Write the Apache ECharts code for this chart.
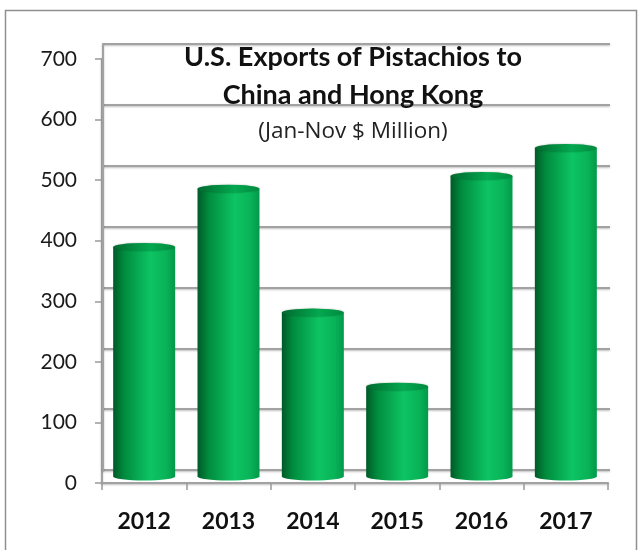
<!DOCTYPE html>
<html>
<head>
<meta charset="utf-8">
<script src="https://cdn.jsdelivr.net/npm/echarts@6/dist/echarts.min.js"></script>
<style>
html,body{margin:0;padding:0;background:#fff;}
#chart{width:644px;height:550px;}
</style>
</head>
<body>
<div id="chart"></div>
<script>
const categories = ['2012', '2013', '2014', '2015', '2016', '2017'];
const exportValues = [378, 474, 270, 148, 495, 541];
const yMin = 0;
const yMax = 700;
const yInterval = 100;
const titleLines = ['U.S. Exports of Pistachios to', 'China and Hong Kong'];
const subtitle = '(Jan-Nov $ Million)';

const chart = echarts.init(document.getElementById('chart'));

const bodyGradient = new echarts.graphic.LinearGradient(0, 0, 1, 0, [
  { offset: 0, color: '#005a28' },
  { offset: 0.18, color: '#008c3e' },
  { offset: 0.6, color: '#0dc463' },
  { offset: 0.85, color: '#09b358' },
  { offset: 1, color: '#03994a' }
]);
const topGradient = new echarts.graphic.LinearGradient(0, 0, 1, 0, [
  { offset: 0, color: '#006a2f' },
  { offset: 0.6, color: '#04a850' },
  { offset: 1, color: '#008a3e' }
]);

const gridLine = { color: '#a2a2a2', width: 2, shadowColor: 'rgba(0,0,0,0.25)', shadowBlur: 2, shadowOffsetY: 1 };

const option = {
  backgroundColor: '#ffffff',
  animation: false,
  title: {
    text: titleLines.join('\n'),
    subtext: subtitle,
    left: 348,
    top: 33,
    textAlign: 'center',
    itemGap: 4,
    textStyle: { fontFamily: 'Lato', fontWeight: 'bold', fontSize: 27, color: '#111', lineHeight: 38 },
    subtextStyle: { fontFamily: 'Open Sans', fontSize: 22.5, color: '#222', lineHeight: 28 }
  },
  graphic: [{
    type: 'rect',
    shape: { x: 5.5, y: 10.5, width: 631, height: 600 },
    style: { fill: 'none', stroke: '#8f8f8f', lineWidth: 1.5 },
    z: -10
  }],
  grid: [
    { left: 102, right: 36, top: 59, bottom: 67 },
    { left: 103, right: 34, top: 44, bottom: 80 },
    { left: 102, right: 36, top: 51.5, bottom: 73.5 }
  ],
  xAxis: [
    {
      type: 'category', gridIndex: 0, data: categories,
      axisLine: { show: true, lineStyle: gridLine },
      axisTick: { show: true, length: 7, interval: 0, lineStyle: { color: '#999', width: 1.5 } },
      axisLabel: { fontFamily: 'Lato', fontWeight: 'bold', fontSize: 23, color: '#111', margin: 27 },
      splitLine: { show: false }
    },
    { type: 'category', gridIndex: 1, data: categories, show: false },
    { type: 'category', gridIndex: 2, data: categories, show: false }
  ],
  yAxis: [
    {
      type: 'value', gridIndex: 0, min: yMin, max: yMax, interval: yInterval,
      axisLine: { show: true, lineStyle: gridLine },
      axisTick: { show: true, length: 7, lineStyle: { color: '#999', width: 1.5 } },
      axisLabel: { fontFamily: 'Lato', fontSize: 21, color: '#1a1a1a', margin: 25, padding: [5, 0, 0, 0] },
      splitLine: { show: false }
    },
    {
      type: 'value', gridIndex: 1, min: yMin, max: yMax, interval: yInterval,
      axisLine: { show: true, lineStyle: gridLine },
      axisTick: { show: false },
      axisLabel: { show: false },
      splitLine: { show: true, lineStyle: gridLine }
    },
    { type: 'value', gridIndex: 2, min: yMin, max: yMax, interval: yInterval, show: false, splitLine: { show: false } }
  ],
  series: [
    {
      type: 'pictorialBar', xAxisIndex: 2, yAxisIndex: 2, data: exportValues,
      symbol: 'circle', symbolSize: [62, 8], symbolPosition: 'start', symbolOffset: [0, '50%'],
      itemStyle: { color: bodyGradient }, z: 2
    },
    {
      type: 'bar', xAxisIndex: 2, yAxisIndex: 2, data: exportValues, barWidth: 62,
      itemStyle: { color: bodyGradient }, z: 3
    },
    {
      type: 'pictorialBar', xAxisIndex: 2, yAxisIndex: 2, data: exportValues,
      symbol: 'circle', symbolSize: [62, 8], symbolPosition: 'end', symbolOffset: [0, '-50%'],
      itemStyle: { color: topGradient, shadowColor: 'rgba(0,60,20,0.35)', shadowBlur: 2 }, z: 4
    }
  ]
};
chart.setOption(option);
</script>
</body>
</html>
